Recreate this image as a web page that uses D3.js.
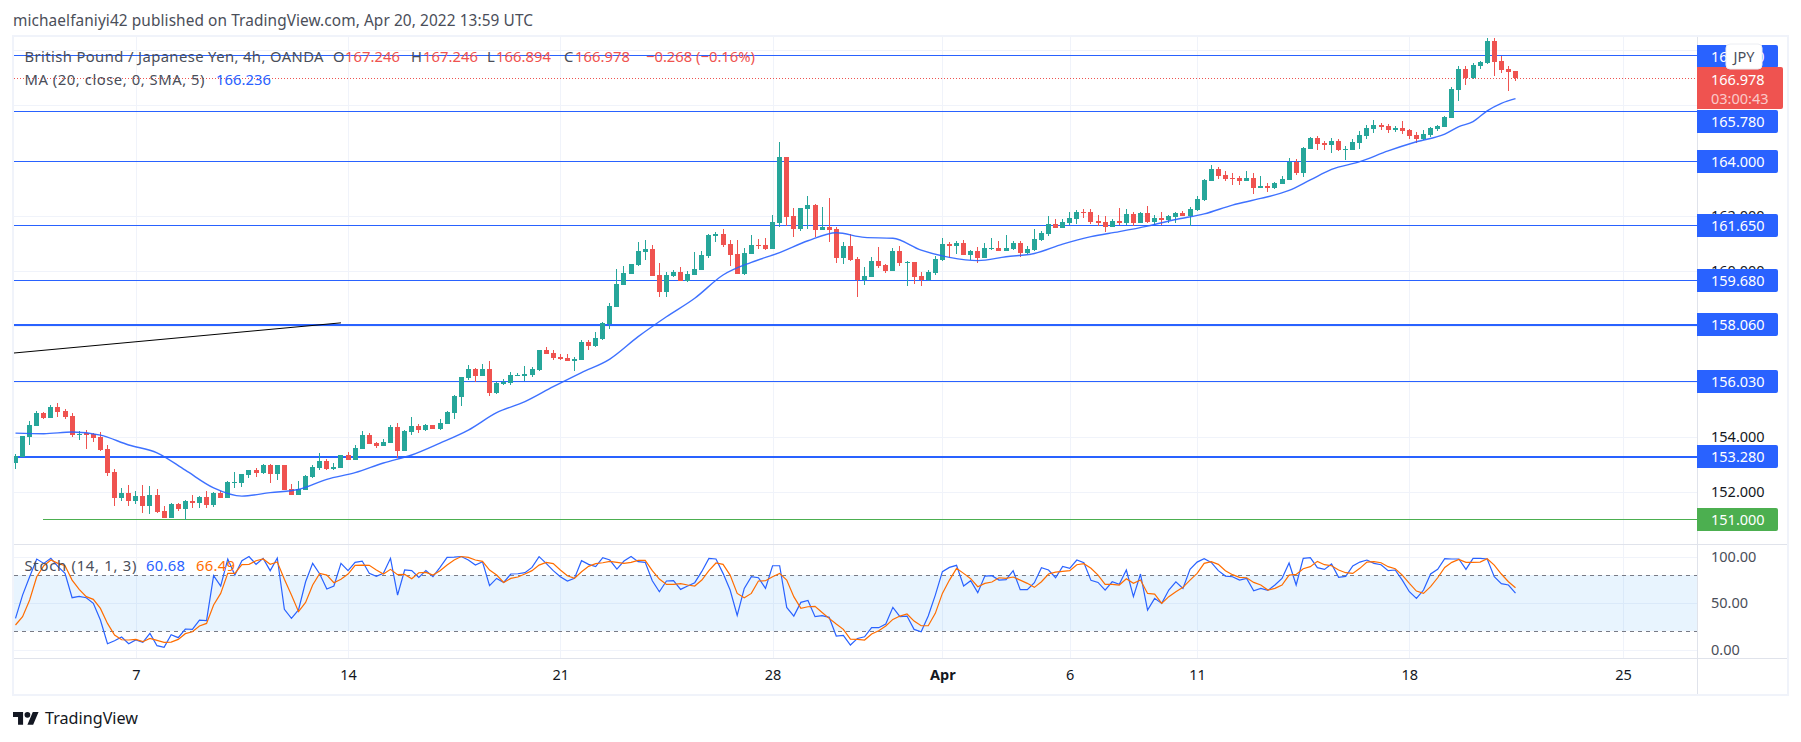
<!DOCTYPE html>
<html>
<head>
<meta charset="utf-8">
<title>GBP/JPY</title>
<script src="https://cdn.jsdelivr.net/npm/d3@7/dist/d3.min.js"></script>
<style>
  html, body { margin: 0; padding: 0; background: #fff; overflow: hidden; }
  text { font-family: "Noto Sans", sans-serif; }
</style>
</head>
<body>
<script>
// candles, 4h GBPJPY
var opens = [153.07,153.29,154.00,154.40,154.87,154.69,155.08,154.94,154.76,154.07,
154.13,154.11,154.00,153.56,152.73,151.79,151.97,151.68,151.86,151.50,
151.90,151.32,151.07,151.57,151.39,151.68,151.61,151.83,151.54,151.97,
151.79,152.33,152.33,152.62,152.80,152.70,152.99,152.66,152.99,152.12,
151.90,152.08,152.55,152.88,153.13,152.84,152.88,153.35,153.17,153.56,
154.07,153.78,153.67,153.78,154.36,153.49,154.18,154.40,154.25,154.43,
154.29,154.47,154.87,155.45,156.13,156.46,156.21,156.46,155.59,155.92,
155.95,156.21,156.21,156.24,156.42,157.15,157.04,156.89,156.86,156.75,
156.78,157.44,157.29,157.54,158.09,158.70,159.50,159.90,160.22,160.69,
160.80,159.86,159.24,159.82,159.97,159.64,159.86,160.04,160.55,161.27,
161.34,160.98,160.62,159.90,160.62,160.94,160.94,160.80,161.74,164.13,
161.99,161.52,162.25,162.39,161.49,161.60,161.52,160.47,160.91,160.44,
159.68,159.79,160.37,160.22,160.00,160.73,160.29,160.33,159.82,159.68,
159.93,160.40,160.98,160.91,161.02,160.58,160.73,160.47,160.80,160.84,
160.73,160.80,161.02,160.66,160.76,161.13,161.34,161.70,161.56,161.74,
161.89,162.14,162.14,161.81,161.78,161.60,161.81,161.74,162.07,161.74,
162.10,161.78,161.92,161.85,161.96,162.10,161.99,162.21,162.57,163.26,
163.69,163.48,163.37,163.37,163.26,163.37,163.01,163.08,163.01,163.15,
163.30,163.95,163.55,164.42,164.82,164.64,164.56,164.71,164.38,164.38,
164.64,164.89,165.14,165.29,165.25,165.10,165.18,165.10,164.92,164.78,
164.92,165.14,165.21,165.54,166.55,167.31,166.99,167.42,167.53,168.33,
167.60,167.31,167.25];
var highs = [153.37,154.03,154.58,154.94,154.90,155.16,155.23,155.01,154.87,154.22,
154.25,154.14,154.18,153.71,152.84,152.15,152.26,152.04,152.26,152.23,
152.12,151.50,151.61,151.61,151.72,151.90,151.86,152.04,152.01,152.04,
152.41,152.73,152.66,152.80,152.88,153.02,153.02,152.99,152.99,152.30,
152.41,152.62,152.99,153.42,153.20,153.06,153.35,153.46,153.71,154.22,
154.14,153.82,153.93,154.43,154.50,154.25,154.72,154.47,154.47,154.43,
154.65,154.94,155.52,156.17,156.60,156.50,156.64,156.75,155.99,156.10,
156.35,156.31,156.57,156.53,157.15,157.25,157.15,157.00,157.00,156.89,
157.51,157.51,157.80,158.16,158.85,160.08,160.19,160.26,161.05,161.12,
160.94,160.29,159.97,160.04,160.15,160.00,160.69,160.73,161.34,161.42,
161.52,161.12,161.12,160.84,161.31,161.16,161.20,162.03,164.67,164.13,
162.28,162.28,162.72,162.43,162.32,162.65,161.60,161.05,161.34,160.51,
160.15,160.51,160.87,160.26,160.84,160.91,160.35,160.33,159.97,160.04,
160.55,161.20,161.05,161.09,161.12,160.76,160.87,161.02,161.20,161.09,
161.31,161.09,161.09,160.91,161.52,161.45,161.99,161.89,161.89,162.14,
162.21,162.25,162.25,162.03,161.99,161.89,162.28,162.25,162.14,162.14,
162.36,162.03,162.14,162.03,162.14,162.17,162.32,162.72,163.33,163.84,
163.77,163.62,163.55,163.44,163.62,163.55,163.44,163.19,163.22,163.44,
164.09,164.06,164.49,164.85,164.89,164.71,164.82,164.78,164.53,164.78,
165.07,165.29,165.47,165.36,165.32,165.25,165.43,165.14,165.03,165.10,
165.21,165.29,165.61,166.66,167.42,167.42,167.53,167.60,168.43,168.43,
167.78,167.42,167.25];
var lows = [152.85,153.29,153.71,154.40,154.65,154.69,154.72,154.65,154.00,153.89,
153.56,153.82,153.49,152.59,151.50,151.68,151.50,151.57,151.25,151.21,
151.25,151.07,151.07,151.32,151.00,151.43,151.43,151.43,151.47,151.79,
151.79,152.15,152.19,152.52,152.55,152.66,152.33,152.44,152.08,151.90,
151.90,152.08,152.52,152.80,152.80,152.80,152.88,153.17,153.17,153.56,
153.74,153.60,153.67,153.78,153.24,153.49,154.07,154.14,154.22,154.28,
154.25,154.47,154.65,155.12,156.06,155.99,156.21,155.48,155.55,155.88,
155.88,156.21,156.01,156.17,156.39,157.00,156.78,156.78,156.75,156.39,
156.78,157.15,157.25,157.51,157.91,158.70,159.50,159.90,160.19,160.40,
159.82,159.06,159.06,159.79,159.64,159.60,159.86,160.04,160.47,161.05,
160.87,160.19,159.90,159.86,160.62,160.80,160.76,160.80,161.60,161.63,
161.23,161.45,161.52,161.23,161.49,161.05,160.29,160.26,160.37,159.06,
159.50,159.79,160.11,159.93,160.00,160.19,159.46,159.53,159.46,159.64,
159.86,160.37,160.47,160.62,160.58,160.40,160.29,160.47,160.76,160.73,
160.73,160.76,160.51,160.62,160.73,161.09,161.27,161.56,161.56,161.67,
161.70,161.92,161.70,161.63,161.42,161.60,161.67,161.67,161.63,161.74,
161.74,161.67,161.67,161.74,161.74,161.99,161.64,162.17,162.54,163.26,
163.33,163.26,163.12,163.12,163.26,162.79,163.01,162.86,162.97,163.15,
163.30,163.48,163.40,164.42,164.38,164.38,164.27,164.35,164.02,164.38,
164.42,164.78,165.00,165.10,165.00,165.03,164.96,164.78,164.64,164.74,
164.85,165.07,165.21,165.54,166.15,166.73,166.95,167.31,167.49,167.06,
167.17,166.52,166.88];
var closes = [153.32,154.03,154.43,154.87,154.69,155.08,154.90,154.72,154.07,154.11,
154.07,153.96,153.53,152.70,151.79,151.97,151.68,151.86,151.50,151.90,
151.29,151.07,151.57,151.39,151.68,151.61,151.83,151.54,151.97,151.79,
152.37,152.37,152.66,152.80,152.70,152.99,152.66,152.99,152.08,151.90,
152.12,152.59,152.91,153.13,152.84,152.91,153.35,153.17,153.60,154.07,
153.74,153.67,153.82,154.36,153.49,154.22,154.40,154.25,154.43,154.29,
154.50,154.90,155.48,156.17,156.46,156.21,156.46,155.59,155.95,155.99,
156.24,156.24,156.28,156.46,157.15,157.00,156.86,156.82,156.75,156.82,
157.44,157.29,157.58,158.12,158.74,159.53,159.93,160.26,160.73,160.80,
159.82,159.24,159.86,159.97,159.64,159.90,160.08,160.58,161.31,161.34,
160.94,160.58,159.90,160.66,160.94,160.91,160.80,161.78,164.13,161.96,
161.52,162.28,162.39,161.49,161.60,161.49,160.47,160.91,160.40,159.68,
159.82,160.37,160.19,160.00,160.73,160.29,160.33,159.79,159.68,159.97,
160.44,160.98,160.91,161.02,160.58,160.73,160.47,160.84,160.84,160.73,
160.84,161.02,160.66,160.80,161.16,161.38,161.70,161.56,161.78,161.92,
162.14,162.10,161.78,161.74,161.60,161.81,161.74,162.07,161.74,162.10,
161.78,161.92,161.85,161.99,162.10,161.99,162.25,162.61,163.30,163.69,
163.44,163.33,163.33,163.26,163.37,163.01,163.08,163.01,163.19,163.33,
163.95,163.55,164.45,164.82,164.60,164.56,164.71,164.38,164.42,164.67,
164.92,165.18,165.29,165.21,165.10,165.18,165.07,164.89,164.78,164.96,
165.18,165.25,165.58,166.59,167.31,166.99,167.46,167.56,168.33,167.56,
167.28,167.20,166.98];

// moving average, read every few bars
var maBars = [0,4,8,12,16,20,24,28,32,36,40,44,48,52,56,60,64,68,72,76,80,84,88,92,96,100,104,108,112,116,120,124,128,132,136,140,144,148,152,156,160,164,168,172,176,180,183,186,190,194,198,202,204,206,208,210,212];
var maValues = [154.14,154.12,154.18,154.07,153.71,153.43,152.80,152.16,151.86,151.99,152.10,152.47,152.71,153.06,153.35,153.78,154.25,154.88,155.28,155.82,156.33,156.82,157.63,158.35,159.02,159.86,160.32,160.67,161.10,161.39,161.22,161.19,160.76,160.50,160.38,160.52,160.64,160.98,161.25,161.43,161.63,161.87,162.07,162.39,162.63,162.92,163.30,163.68,163.96,164.35,164.68,164.96,165.23,165.41,165.80,166.07,166.24];

// stochastic
var stochK = [33.6,58.6,78.3,97.3,92.6,98,89.1,81.9,55.8,57.2,
55.8,49.7,31.8,6.4,9.6,13.6,6.4,10.4,7.9,17.5,
4.3,2.5,16.1,12.9,22.2,21.8,31.8,31.1,79.4,68.3,
97.3,80.1,95.5,100,91.6,98,84.8,98.4,43.3,33.6,
42.6,72.9,92.6,81.2,65.1,68.3,92.6,84.8,93.7,95.1,
81.9,78.7,81.9,98,58.6,85.5,84.8,77.6,84.8,78.3,
88.3,99.1,99.4,100,96.2,90.8,94.4,68.7,76.5,72.2,
81.2,81.5,82.6,88.3,99.8,92.6,84.8,78.3,73.7,76.5,
95.5,91.6,89.1,98.7,96.2,86.5,95.1,100,94.4,93.7,
74,62.2,73.7,74,64.7,68.3,71.9,84,98,97.3,
81.9,64,36.8,65.8,78.3,77.2,65.8,90.1,90.1,45.4,
36.1,50.8,52.9,35.4,36.5,34.7,14.7,15.4,5,12.1,
13.9,23.6,23.6,27.5,45.4,35.4,36.1,21.8,19.3,36.1,
58.6,83.7,88.3,90.5,68.3,74,61.2,79,79.4,74.7,
75.1,84.8,64.4,64.4,71.9,88,85.5,77.2,89.4,87.3,
96.2,93.3,74.4,72.2,64,72.9,70.1,85.5,56.9,81.2,
42.6,55.1,49.7,64,72.9,65.8,86.2,94,97.6,93.7,
84.8,79,78.3,74.7,76.5,63.3,65.8,63.6,69.4,76.5,
93,69.4,98,98.7,88,86.2,92,77.6,78.7,89.8,
94,96.2,92.6,91.2,84.8,85.5,74.7,62.2,55.1,64,
81.2,86.2,97.6,97.3,97.3,86.2,98,98,97.3,78.3,
70.8,69.4,60.7];
var stochD = [26.5,35.4,53.3,78.3,90.1,96.2,92.6,90.1,74.7,64.7,
56.9,54,44.3,28.2,15.7,10.7,10.4,11.1,8.6,12.1,
10,7.9,8.2,11.1,17.2,19.3,25.4,28.2,47.9,60.4,
81.9,81.9,91.2,91.6,95.5,97.3,91.6,94.1,75.5,58.6,
40.8,50.8,69.4,81.9,80.1,71.9,75.5,81.2,90.5,90.8,
90.5,85.5,81.2,86.2,80.5,80.8,76.2,82.6,83,80.1,
84.8,90.8,96.2,100,99.1,96.2,94.8,85.5,80.1,72.2,
76.5,78,81.2,84.8,90.8,93.7,92.3,85.5,79.4,76.5,
83.7,89.4,92.3,93.3,94.8,93.7,92.6,93.7,95.9,95.9,
84.8,75.8,70.1,70.1,70.8,69.4,68.3,74.7,84.8,93,
91.6,80.1,60.4,55.8,60.4,73.7,74,78.3,81.9,74.7,
56.9,44.3,46.1,46.5,40,33.6,27.5,21.8,11.4,11.1,
10.4,16.8,20.4,25.4,32.5,36.1,38.3,30.7,25.7,25.7,
39,60.4,74.7,87.3,81.9,76.2,67.6,71.2,72.6,77.2,
76.5,78,74.7,71.2,66.9,72.9,81.2,83.3,84,84.8,
91.2,92.3,87.3,80.1,70.1,70.1,69.4,76.2,71.2,74.7,
60.4,59.7,49.7,56.9,62.2,66.9,74.7,81.9,92.6,94.4,
91.6,84.8,80.5,77.6,77.2,72.2,69.4,64,65.8,69.4,
80.1,80.8,86.9,89.1,94.8,91.2,90.1,85.5,82.6,81.9,
87.3,94,94.4,93.3,89.1,86.9,80.1,71.2,62.9,60.4,
67.6,77.2,88.3,93.7,96.9,93.7,93.7,94,97.6,90.8,
81.2,72.9,66.5];

// drawn levels: where the line sits and what its tag says
var levelPrices = [167.81,165.78,164.00,161.67,159.67,158.10,156.01,153.31,151.02];
var levelLabels = ["167.800","165.780","164.000","161.650","159.680","158.060","156.030","153.280","151.000"];
var levelThick = [1,1,1,1,1,2,1,2,1];
var levelStart = [-1,-1,-1,-1,-1,-1,-1,-1,3.9];

var trendBars = [-1,46];
var trendPrices = [157.02,158.13];

var priceTicks = [152,154,156,158,160,162,164,166,168];
var priceTickLabels = [152,154,160,162]; // the rest sit fully behind the level tags
var stochTicks = [0,50,100];
var stochBands = [20,80];
var timeTicks = [17,47,77,107,131,149,167,197,227.2];
var timeLabels = ["7","14","21","28","Apr","6","11","18","25"];
var lastClose = 166.98;

var w = 1801, h = 742;
var blue = "#2962ff", green = "#26a69a", red = "#ef5350", orange = "#ff6d00", dark = "#131722", gridCol = "#f0f3fa", edgeCol = "#e0e3eb";
var left = 14, right = 1697, top1 = 37, bot1 = 544, bot2 = 658;

var svg = d3.select("body").append("svg")
  .attr("width", w).attr("height", h).style("display", "block");

var x = d3.scaleLinear().domain([0, 212]).range([15.5, 1515.5]);
var y = d3.scaleLinear().domain([152, 168]).range([492.3, 50]);
var yS = d3.scaleLinear().domain([0, 100]).range([649.7, 556.5]);

// snap candle centres to the pixel grid
function cx(i) { return Math.floor(x(i)) + 0.5; }

svg.append("defs").append("clipPath").attr("id", "mainClip").append("rect")
  .attr("x", left).attr("y", top1).attr("width", right - left).attr("height", bot1 - top1);
svg.select("defs").append("clipPath").attr("id", "stochClip").append("rect")
  .attr("x", left).attr("y", bot1).attr("width", right - left).attr("height", bot2 - bot1);

// header
svg.append("text").attr("x", 13).attr("y", 26).attr("font-size", 15.4).attr("fill", "#4a4e59")
  .attr("textLength", 520)
  .text("michaelfaniyi42 published on TradingView.com, Apr 20, 2022 13:59 UTC");

// frame
svg.append("rect").attr("x", 13).attr("y", 36).attr("width", 1775).attr("height", 659)
  .attr("fill", "#fff").attr("stroke", gridCol).attr("stroke-width", 2);

// grid
var grid = svg.append("g").attr("stroke", gridCol).attr("shape-rendering", "crispEdges");
grid.selectAll(".gx").data(timeTicks).enter().append("line")
  .attr("x1", d => Math.round(x(d)) + 0.5).attr("x2", d => Math.round(x(d)) + 0.5)
  .attr("y1", top1).attr("y2", bot2);
grid.selectAll(".gy").data(priceTicks).enter().append("line")
  .attr("x1", left).attr("x2", right)
  .attr("y1", d => Math.round(y(d)) + 0.5).attr("y2", d => Math.round(y(d)) + 0.5);
grid.selectAll(".gs").data(stochTicks).enter().append("line")
  .attr("x1", left).attr("x2", right)
  .attr("y1", d => Math.round(yS(d)) + 0.5).attr("y2", d => Math.round(yS(d)) + 0.5);

// pane edges
var edges = svg.append("g").attr("stroke", edgeCol).attr("shape-rendering", "crispEdges");
edges.append("line").attr("x1", left).attr("x2", 1787).attr("y1", bot1 + 0.5).attr("y2", bot1 + 0.5);
edges.append("line").attr("x1", left).attr("x2", 1787).attr("y1", bot2 + 0.5).attr("y2", bot2 + 0.5);
edges.append("line").attr("x1", right + 0.5).attr("x2", right + 0.5).attr("y1", top1).attr("y2", 694);

// price axis text (sits under the level tags)
var yAxis = d3.axisRight(y).tickValues(priceTickLabels).tickFormat(d3.format(".3f")).tickSize(0).tickPadding(0);
var yG = svg.append("g").attr("transform", "translate(1711,0)").call(yAxis);
yG.select(".domain").remove();
yG.selectAll("text").attr("font-size", 14.5).attr("fill", dark).style("font-family", "'Noto Sans', sans-serif");

// main pane
var main = svg.append("g").attr("clip-path", "url(#mainClip)");

main.append("line").attr("x1", left).attr("x2", right)
  .attr("y1", Math.round(y(lastClose)) + 0.5).attr("y2", Math.round(y(lastClose)) + 0.5)
  .attr("stroke", red).attr("stroke-dasharray", "1 2");

main.selectAll(".level").data(levelPrices).enter().append("line")
  .attr("x1", (d, i) => levelStart[i] < 0 ? left : x(levelStart[i])).attr("x2", right)
  .attr("y1", d => Math.round(y(d)) + 0.5).attr("y2", d => Math.round(y(d)) + 0.5)
  .attr("stroke", (d, i) => i == 8 ? "#4caf50" : blue)
  .attr("stroke-width", (d, i) => levelThick[i])
  .attr("shape-rendering", "crispEdges");

main.append("line").attr("x1", x(trendBars[0])).attr("x2", x(trendBars[1]))
  .attr("y1", y(trendPrices[0])).attr("y2", y(trendPrices[1]))
  .attr("stroke", "#000").attr("stroke-width", 1);

var candles = main.append("g").attr("shape-rendering", "crispEdges");
candles.selectAll(".wick").data(opens).enter().append("rect")
  .attr("x", (d, i) => cx(i) - 0.5).attr("width", 1)
  .attr("y", (d, i) => y(highs[i]))
  .attr("height", (d, i) => y(lows[i]) - y(highs[i]))
  .attr("fill", (d, i) => closes[i] >= d ? green : red);
candles.selectAll(".body").data(opens).enter().append("rect")
  .attr("x", (d, i) => cx(i) - 2.5).attr("width", 5)
  .attr("y", (d, i) => y(Math.max(d, closes[i])))
  .attr("height", (d, i) => Math.max(1, Math.abs(y(d) - y(closes[i]))))
  .attr("fill", (d, i) => closes[i] >= d ? green : red);

var maLine = d3.line().x(d => x(d[0])).y(d => y(d[1])).curve(d3.curveMonotoneX);
main.append("path").datum(maBars.map((b, i) => [b, maValues[i]]))
  .attr("d", maLine).attr("fill", "none").attr("stroke", blue).attr("stroke-width", 1.4).attr("opacity", 0.9);

// stoch pane
var stoch = svg.append("g").attr("clip-path", "url(#stochClip)");
stoch.append("rect").attr("x", left).attr("width", right - left)
  .attr("y", yS(stochBands[1])).attr("height", yS(stochBands[0]) - yS(stochBands[1]))
  .attr("fill", "#2196f3").attr("fill-opacity", 0.1);
stoch.selectAll(".band").data(stochBands).enter().append("line")
  .attr("x1", left).attr("x2", right)
  .attr("y1", d => Math.round(yS(d)) + 0.5).attr("y2", d => Math.round(yS(d)) + 0.5)
  .attr("stroke", "#787b86").attr("stroke-dasharray", "4 4").attr("shape-rendering", "crispEdges");

var sLine = d3.line().x((d, i) => x(i)).y(d => yS(d));
stoch.append("path").attr("d", sLine(stochK)).attr("fill", "none").attr("stroke", blue).attr("stroke-width", 1.2);
stoch.append("path").attr("d", sLine(stochD)).attr("fill", "none").attr("stroke", orange).attr("stroke-width", 1.2);

var sAxis = d3.axisRight(yS).tickValues(stochTicks).tickFormat(d3.format(".2f")).tickSize(0).tickPadding(0);
var sG = svg.append("g").attr("transform", "translate(1711,0)").call(sAxis);
sG.select(".domain").remove();
sG.selectAll("text").attr("font-size", 14.5).attr("fill", "#4a4e59").style("font-family", "'Noto Sans', sans-serif");

// time axis
var xAxis = d3.axisBottom(x).tickValues(timeTicks).tickFormat((d, i) => timeLabels[i]).tickSize(0).tickPadding(0);
var xG = svg.append("g").attr("transform", "translate(0,670)").call(xAxis);
xG.select(".domain").remove();
xG.selectAll("text").attr("font-size", 14.5).attr("fill", dark)
  .style("font-family", "'Noto Sans', sans-serif")
  .attr("font-weight", (d, i) => timeLabels[i] == "Apr" ? "bold" : "normal");

// level tags, the one under the last price tag gets pushed down
var tagShift = [1,10,0,0,0,0,0,0,0];
var tags = svg.append("g");
levelLabels.forEach(function (label, i) {
  var col = i == 8 ? "#4caf50" : blue;
  var py = Math.round(y(levelPrices[i])) + tagShift[i];
  tags.append("path")
    .attr("d", "M1697 " + (py - 11) + "h79a2 2 0 0 1 2 2v19a2 2 0 0 1 -2 2h-79z")
    .attr("fill", col);
  tags.append("text").attr("x", 1711).attr("y", py + 6).attr("font-size", 14.5).attr("fill", "#fff").text(label);
});

// last price tag
tags.append("path").attr("d", "M1697 67h84a2 2 0 0 1 2 2v38a2 2 0 0 1 -2 2h-84z").attr("fill", red);
tags.append("text").attr("x", 1711).attr("y", 85).attr("font-size", 14.5).attr("fill", "#fff").text("166.978");
tags.append("text").attr("x", 1711).attr("y", 104).attr("font-size", 14.5).attr("fill", "#fff").attr("fill-opacity", 0.7).text("03:00:43");

// currency button
tags.append("rect").attr("x", 1726).attr("y", 44).attr("width", 36).attr("height", 25).attr("rx", 4)
  .attr("fill", "#fff").attr("stroke", "#eceef3");
tags.append("text").attr("x", 1744).attr("y", 62).attr("font-size", 14.5).attr("fill", "#4a4e59").attr("text-anchor", "middle").text("JPY");

// legends, widths
var legendPieces = [
  [24.5, 62, "British Pound / Japanese Yen, 4h, OANDA", "#4a4e59", 299],
  [333, 62, "O", "#4a4e59", 11], [345, 62, "167.246", red, 55],
  [411, 62, "H", "#4a4e59", 11], [423, 62, "167.246", red, 55],
  [487, 62, "L", "#4a4e59", 8], [496, 62, "166.894", red, 55],
  [564, 62, "C", "#4a4e59", 10], [575, 62, "166.978", red, 55],
  [646, 62, "\u22120.268 (\u22120.16%)", red, 109],
  [24.5, 85, "MA (20, close, 0, SMA, 5)", "#4a4e59", 180], [216, 85, "166.236", blue, 55],
  [24.5, 571, "Stoch (14, 1, 3)", "#4a4e59", 112], [146, 571, "60.68", blue, 39], [196, 571, "66.49", orange, 39]
];
svg.append("g").selectAll("text").data(legendPieces).enter().append("text")
  .attr("x", d => d[0]).attr("y", d => d[1]).attr("font-size", 14.8).attr("fill", d => d[3])
  .attr("textLength", d => d[4]).text(d => d[2]);

// logo and wordmark
var logo = svg.append("g").attr("transform", "translate(13,709) scale(0.72)").attr("fill", dark);
logo.append("path").attr("d", "M14 22H7V11H0V4h14v18zM28 22h-8l7.5-18h8L28 22z");
logo.append("circle").attr("cx", 20).attr("cy", 8).attr("r", 4);
svg.append("text").attr("x", 45).attr("y", 724).attr("font-size", 17).attr("fill", dark)
  .attr("textLength", 93).attr("lengthAdjust", "spacingAndGlyphs").text("TradingView");
</script>
</body>
</html>
